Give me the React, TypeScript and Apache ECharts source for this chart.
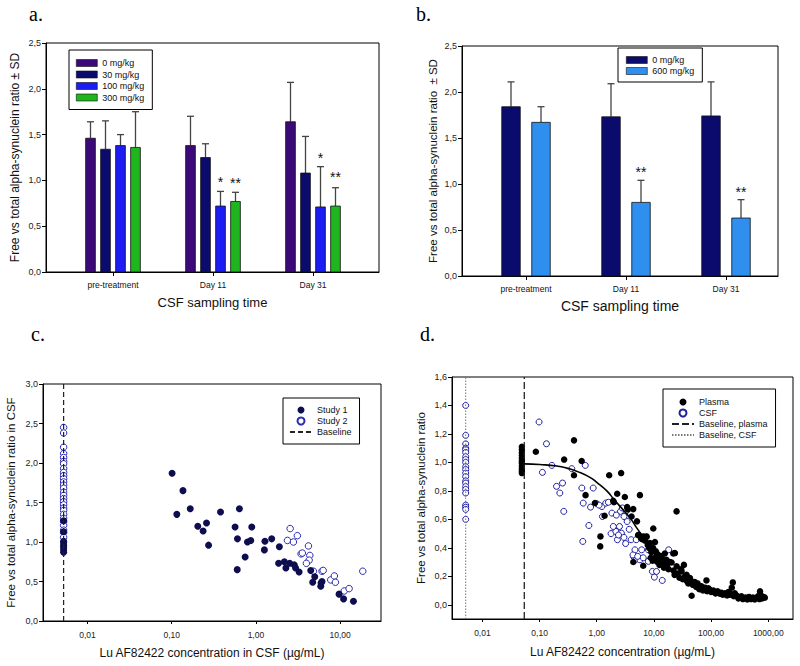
import React, { useEffect, useRef } from 'react';
import * as echarts from 'echarts';

// ---------- Panel a / b : bar charts ----------
const timeCategories = ['pre-treatment', 'Day 11', 'Day 31'];
const dosesA = ['0 mg/kg', '30 mg/kg', '100 mg/kg', '300 mg/kg'];
const meanA0 = [1.46, 1.38, 1.64];
const upA0 = [1.64, 1.70, 2.07];
const meanA30 = [1.34, 1.25, 1.08];
const upA30 = [1.65, 1.40, 1.48];
const meanA100 = [1.38, 0.72, 0.71];
const upA100 = [1.50, 0.88, 1.15];
const meanA300 = [1.36, 0.77, 0.72];
const upA300 = [1.75, 0.87, 0.92];
// [category index, bar index, y value, number of asterisks]
const starsA = [[1, 2, 1.02, 1], [1, 3, 1.0, 2], [2, 2, 1.28, 1], [2, 3, 1.07, 2]];

const dosesB = ['0 mg/kg', '600 mg/kg'];
const meanB0 = [1.84, 1.73, 1.74];
const upB0 = [2.11, 2.09, 2.11];
const meanB600 = [1.67, 0.80, 0.63];
const upB600 = [1.84, 1.04, 0.83];
const starsB = [[1, 1, 1.16, 2], [2, 1, 0.95, 2]];

const yTicksBar = [0, 0.5, 1, 1.5, 2, 2.5];

// ---------- Panel c : CSF scatter ----------
const cBaselineX = 0.0052;
const studyOneBaselineY = [0.87, 0.9, 0.93, 0.96, 0.99, 1.01, 1.13, 1.27];
const studyTwoBaselineY = [2.45, 2.38, 2.2, 2.12, 2.07, 2.02, 1.99, 1.93, 1.88, 1.84, 1.8, 1.76, 1.72, 1.68,
  1.63, 1.59, 1.55, 1.51, 1.47, 1.43, 1.4, 1.35, 1.3, 1.26, 1.21, 1.15, 1.12, 1.06];
const studyOne = [
  [0.101, 1.87], [0.136, 1.65], [0.115, 1.35], [0.166, 1.42], [0.204, 1.2], [0.259, 1.24], [0.236, 1.14],
  [0.274, 0.96], [0.38, 1.38], [0.566, 1.19], [0.637, 1.42], [0.604, 1.04], [0.6, 0.65], [0.745, 0.81],
  [0.794, 1.0], [0.869, 1.02], [0.893, 1.19], [1.28, 1.01], [1.26, 0.9], [1.54, 1.04], [1.9, 0.94],
  [1.86, 0.73], [2.18, 0.75], [2.27, 0.67], [2.52, 0.73], [2.86, 0.71], [2.96, 0.67], [3.26, 0.62],
  [4.48, 0.64], [4.73, 0.49], [5.0, 0.56], [5.94, 0.48], [5.89, 0.44], [6.1, 0.5], [9.73, 0.34],
  [11.0, 0.28], [14.4, 0.25],
];
const studyTwo = [
  [2.55, 1.17], [2.37, 1.02], [2.79, 1.0], [3.11, 1.08], [3.44, 0.85], [3.56, 0.86], [4.21, 0.95],
  [4.37, 0.83], [4.29, 0.77], [3.98, 0.73], [4.82, 0.63], [6.1, 0.63], [6.3, 0.64], [7.74, 0.52],
  [8.55, 0.57], [8.8, 0.49], [11.2, 0.38], [12.8, 0.41], [18.6, 0.63],
];
const xTicksC = [0.01, 0.1, 1, 10];
const yTicksC = [0, 0.5, 1, 1.5, 2, 2.5, 3];

// ---------- Panel d : plasma & CSF ----------
const dPlasmaBaselineX = 0.054;
const dPlasmaColumnX = 0.049;
const dCsfBaselineX = 0.0051;
const plasmaColumnY = [1.11, 1.09, 1.07, 1.05, 1.03, 1.01, 0.995, 0.975, 0.955, 0.94, 0.925];
const csfColumnY = [1.4, 1.19, 1.13, 1.1, 1.09, 1.07, 1.04, 1.02, 1.0, 0.97, 0.95, 0.925, 0.9, 0.87, 0.855,
  0.83, 0.81, 0.785, 0.7, 0.685, 0.67, 0.6];
const plasmaPoints = [
  [0.086, 1.075], [0.269, 1.02], [0.4, 1.155], [0.4, 0.91], [0.545, 1.01], [0.637, 0.77], [0.93, 0.715],
  [1.15, 0.41], [1.16, 0.48], [1.37, 0.625], [1.65, 0.91], [1.94, 0.73], [2.0, 0.72], [2.28, 0.78],
  [2.67, 0.925], [3.1, 0.757], [3.4, 0.686], [3.5, 0.67], [4.06, 0.62], [4.35, 0.672], [4.36, 0.3],
  [5.05, 0.586], [5.4, 0.49], [5.69, 0.77], [5.3, 0.49], [6.5, 0.48], [6.5, 0.274], [7.4, 0.476],
  [7.43, 0.48], [8.5, 0.433], [9.7, 0.398], [9.75, 0.536], [10.4, 0.44], [10.8, 0.375], [11.1, 0.363],
  [13.6, 0.34], [15.5, 0.36], [16.6, 0.316], [20.4, 0.297], [21.8, 0.36], [23.3, 0.363], [24.9, 0.656],
  [25, 0.27], [30.5, 0.234], [33.5, 0.28], [37.3, 0.211], [42.8, 0.187], [45.7, 0.063], [64, 0.129],
  [83, 0.171], [95.5, 0.105], [143, 0.077], [214, 0.07], [230, 0.12], [240, 0.157], [320, 0.054],
  [479, 0.047], [718, 0.054], [718, 0.094], [870, 0.05],
  [5.9, 0.47], [6.2, 0.46], [7.0, 0.45], [7.8, 0.42], [8.2, 0.4], [9.0, 0.37], [8.8, 0.33], [9.5, 0.31],
  [10.5, 0.33], [11.5, 0.3], [12, 0.35], [12.5, 0.28], [13, 0.32], [14, 0.29], [15, 0.26], [15, 0.31],
  [17, 0.28], [18, 0.25], [19, 0.3], [22, 0.24], [23, 0.21], [26, 0.22], [28, 0.19], [30, 0.25],
  [32, 0.18], [35, 0.2], [38, 0.165], [40, 0.15], [44, 0.17], [48, 0.14], [52, 0.16], [55, 0.125],
  [58, 0.15], [62, 0.11], [68, 0.13], [72, 0.1], [78, 0.12], [85, 0.095], [90, 0.115], [100, 0.09],
  [110, 0.1], [120, 0.08], [130, 0.095], [150, 0.085], [160, 0.07], [175, 0.08], [190, 0.065], [200, 0.09],
  [220, 0.075], [250, 0.06], [260, 0.08], [280, 0.065], [300, 0.045], [340, 0.06], [360, 0.04], [400, 0.05],
  [430, 0.038], [460, 0.055], [500, 0.04], [540, 0.05], [580, 0.038], [620, 0.048], [660, 0.06], [700, 0.04],
  [750, 0.065], [780, 0.045], [820, 0.055],
];
const csfPoints = [
  [0.098, 1.284], [0.132, 1.131], [0.112, 0.93], [0.164, 0.979], [0.198, 0.832], [0.226, 0.785],
  [0.252, 0.855], [0.265, 0.656], [0.366, 0.956], [0.549, 0.82], [0.58, 0.714], [0.57, 0.445], [0.63, 0.979],
  [0.728, 0.557], [0.78, 0.686], [0.867, 0.82], [1.23, 0.69], [1.26, 0.62], [1.44, 0.714], [1.84, 0.644],
  [1.78, 0.5], [2.16, 0.515], [2.3, 0.457], [2.6, 0.656], [2.7, 0.503], [2.99, 0.473], [3.2, 0.43],
  [3.4, 0.585], [3.7, 0.53], [4.0, 0.457], [4.66, 0.386], [4.9, 0.457], [4.4, 0.34], [4.98, 0.32],
  [5.7, 0.316], [6.1, 0.386], [8.0, 0.386], [8.5, 0.316], [8.0, 0.305], [9.4, 0.234], [10.2, 0.194],
  [11.1, 0.234], [14.0, 0.171], [18.1, 0.386], [4.3, 0.35], [1.95, 0.55], [2.5, 0.55], [1.0, 0.71],
  [1.1, 0.7], [1.6, 0.72], [2.2, 0.63], [2.8, 0.68], [3.0, 0.62], [3.3, 0.66], [2.4, 0.49], [5.2, 0.34],
  [6.5, 0.33],
];
const fitCurve = [
  [0.054, 0.99], [0.1, 0.985], [0.2, 0.975], [0.3, 0.96], [0.5, 0.93], [0.8, 0.89], [1, 0.86], [1.5, 0.8],
  [2, 0.74], [3, 0.66], [4, 0.6], [5, 0.54], [7, 0.46], [10, 0.38], [15, 0.3], [20, 0.25], [30, 0.19],
  [50, 0.13], [100, 0.08], [200, 0.06], [400, 0.05], [800, 0.045],
];
const xTicksD = [0.01, 0.1, 1, 10, 100, 1000];
const yTicksD = [0, 0.2, 0.4, 0.6, 0.8, 1.0, 1.2, 1.4, 1.6];

const FONT = 'Liberation Sans, Arial, sans-serif';
const SERIF = 'Liberation Serif, Times New Roman, serif';
const lg = (v: number) => Math.log10(v);
const comma1 = (v: number) => v.toFixed(1).replace('.', ',');
const powLabel = (v: number) => Math.pow(10, v).toFixed(2).replace('.', ',');

const colorsA = ['#3c0a78', '#0b0b6e', '#1c1cf5', '#1fb51f'];
const colorsB = ['#0b0b6e', '#2f8fef'];

function barSeries(name: string, means: number[], ups: number[], color: string, offset: number,
  width: number, axisIdx: number) {
  return {
    type: 'custom', name, xAxisIndex: axisIdx, yAxisIndex: axisIdx,
    itemStyle: { color },
    encode: { x: 0, y: [1, 2] },
    data: means.map((m, i) => [i, m, ups[i]]),
    renderItem: (params: any, api: any) => {
      const c = api.value(0);
      const base = api.coord([c, 0]);
      const top = api.coord([c, api.value(1)]);
      const eb = api.coord([c, api.value(2)]);
      const cx = base[0] + offset;
      return {
        type: 'group',
        children: [
          { type: 'line', shape: { x1: cx, y1: top[1], x2: cx, y2: eb[1] }, style: { stroke: '#444', lineWidth: 1.3 } },
          { type: 'line', shape: { x1: cx - 3.5, y1: eb[1], x2: cx + 3.5, y2: eb[1] }, style: { stroke: '#444', lineWidth: 1.3 } },
          {
            type: 'rect', shape: { x: cx - width / 2, y: top[1], width, height: base[1] - top[1] },
            style: { fill: color, stroke: '#111', lineWidth: 0.8 },
          },
        ],
      };
    },
  };
}

function starSeries(stars: number[][], offsets: number[], axisIdx: number) {
  return {
    type: 'custom', name: 'stars' + axisIdx, xAxisIndex: axisIdx, yAxisIndex: axisIdx,
    encode: { x: 0, y: 2 },
    data: stars,
    renderItem: (params: any, api: any) => {
      const p = api.coord([api.value(0), api.value(2)]);
      const n = api.value(3);
      return {
        type: 'text',
        style: {
          text: n === 2 ? '**' : '*', x: p[0] + offsets[api.value(1)], y: p[1] + 3,
          align: 'center', verticalAlign: 'middle', fontSize: 14, fontFamily: FONT, fill: '#111',
        },
      };
    },
  };
}

function barXAxis(grid: number, min: number, max: number, nameSize: number, nameGap: number) {
  return {
    type: 'value', gridIndex: grid, min, max,
    name: 'CSF sampling time', nameLocation: 'middle', nameGap,
    nameTextStyle: { fontFamily: FONT, fontSize: nameSize, color: '#111' },
    axisLine: { show: true, onZero: false, lineStyle: { color: '#000', width: 1 } },
    axisTick: { show: true, customValues: [0, 1, 2], length: 4, lineStyle: { color: '#000' } },
    axisLabel: {
      customValues: [0, 1, 2], formatter: (v: number) => timeCategories[Math.round(v)],
      fontFamily: FONT, fontSize: 8.5, color: '#111', margin: 8,
    },
    splitLine: { show: false },
  };
}

function yAxisCfg(grid: number, min: number, max: number, ticks: number[], name: string, nameSize: number, nameGap: number) {
  return {
    type: 'value', gridIndex: grid, min, max,
    name, nameLocation: 'middle', nameGap,
    nameTextStyle: { fontFamily: FONT, fontSize: nameSize, color: '#111' },
    axisLine: { show: true, onZero: false, lineStyle: { color: '#000', width: 1 } },
    axisTick: { show: true, customValues: ticks, length: 4, lineStyle: { color: '#000' } },
    axisLabel: { customValues: ticks, formatter: comma1, fontFamily: FONT, fontSize: 9, color: '#222', margin: 5 },
    splitLine: { show: false },
  };
}

function logXAxis(grid: number, min: number, max: number, ticks: number[], name: string, nameGap: number) {
  const t = ticks.map(lg);
  return {
    type: 'value', gridIndex: grid, min, max,
    name, nameLocation: 'middle', nameGap,
    nameTextStyle: { fontFamily: FONT, fontSize: 12, color: '#111' },
    axisLine: { show: true, onZero: false, lineStyle: { color: '#000', width: 1 } },
    axisTick: { show: true, customValues: t, length: 3, lineStyle: { color: '#000' } },
    axisLabel: { customValues: t, formatter: powLabel, fontFamily: FONT, fontSize: 8.5, color: '#222', margin: 9 },
    splitLine: { show: false },
  };
}

const gridStyle = { show: true, borderColor: '#000', borderWidth: 1, backgroundColor: 'transparent' };
const hiddenSymbol = { color: 'rgba(0,0,0,0)', borderColor: 'rgba(0,0,0,0)', borderWidth: 0 };

export default function App() {
  const ref = useRef<HTMLDivElement>(null);
  useEffect(() => {
    if (!ref.current) return;
    const chart = echarts.init(ref.current, null, { renderer: 'svg' });
    const legendText = { fontFamily: FONT, fontSize: 9, color: '#111', lineHeight: 10 };
    const titleStyle = { fontFamily: SERIF, fontSize: 20, fontWeight: 'normal', color: '#000' };
    const option: any = {
      animation: false,
      backgroundColor: '#fff',
      title: [
        { text: 'a.', left: 24, top: -1, textStyle: titleStyle },
        { text: 'b.', left: 411, top: -1, textStyle: titleStyle },
        { text: 'c.', left: 26, top: 319, textStyle: titleStyle },
        { text: 'd.', left: 415, top: 319, textStyle: titleStyle },
      ],
      grid: [
        { left: 46, top: 43, width: 333, height: 229, ...gridStyle },
        { left: 462, top: 46, width: 316, height: 230, ...gridStyle },
        { left: 43, top: 384, width: 338, height: 237, ...gridStyle },
        { left: 452, top: 377, width: 341, height: 242, ...gridStyle },
      ],
      xAxis: [
        barXAxis(0, -0.67, 2.66, 13, 24),
        barXAxis(1, -0.64, 2.52, 14, 23),
        logXAxis(2, -2.529, 1.486, xTicksC, 'Lu AF82422 concentration in CSF (µg/mL)', 26),
        logXAxis(3, -2.532, 3.433, xTicksD, 'Lu AF82422 concentration (µg/mL)', 27),
      ],
      yAxis: [
        yAxisCfg(0, 0, 2.5, yTicksBar, 'Free vs total alpha-synuclein ratio ± SD', 12, 25),
        yAxisCfg(1, 0, 2.5, yTicksBar, 'Free vs total alpha-synuclein ratio  ± SD', 11.5, 23),
        yAxisCfg(2, 0, 3, yTicksC, 'Free vs total alpha-synuclein ratio in CSF', 11.5, 26),
        yAxisCfg(3, -0.1, 1.6, yTicksD, 'Free vs total alpha-synuclein ratio', 11.5, 25),
      ],
      legend: [
        {
          left: 69, top: 50, orient: 'vertical', icon: 'rect', itemWidth: 21, itemHeight: 7, itemGap: 1.5,
          padding: [8, 8, 7, 7], borderColor: '#000', borderWidth: 1, selectedMode: false,
          textStyle: legendText,
          data: dosesA.map((n, i) => ({ name: n, itemStyle: { color: colorsA[i], borderColor: '#111', borderWidth: 0.6 } })),
        },
        {
          left: 618, top: 48, orient: 'vertical', icon: 'rect', itemWidth: 21, itemHeight: 7, itemGap: 1,
          padding: [7, 8, 6, 8], borderColor: '#000', borderWidth: 1, selectedMode: false,
          textStyle: legendText,
          data: dosesB.map((n, i) => ({ name: n, itemStyle: { color: colorsB[i], borderColor: '#111', borderWidth: 0.6 } })),
        },
        {
          left: 283, top: 398, orient: 'vertical', itemWidth: 22, itemHeight: 7, itemGap: 1,
          padding: [7, 8, 7, 6], borderColor: '#000', borderWidth: 1, selectedMode: false,
          textStyle: legendText,
          data: ['Study 1', 'Study 2', { name: 'Baseline', itemStyle: hiddenSymbol }],
        },
        {
          left: 663, top: 389, orient: 'vertical', itemWidth: 22, itemHeight: 7, itemGap: 1,
          padding: [8, 8, 7, 8], borderColor: '#000', borderWidth: 1, selectedMode: false,
          textStyle: legendText,
          data: ['Plasma', 'CSF', { name: 'Baseline, plasma', itemStyle: hiddenSymbol },
            { name: 'Baseline, CSF', itemStyle: hiddenSymbol }],
        },
      ],
      series: [
        barSeries(dosesA[0], meanA0, upA0, colorsA[0], -22.5, 9.7, 0),
        barSeries(dosesA[1], meanA30, upA30, colorsA[1], -7.5, 9.7, 0),
        barSeries(dosesA[2], meanA100, upA100, colorsA[2], 7.5, 9.7, 0),
        barSeries(dosesA[3], meanA300, upA300, colorsA[3], 22.5, 9.7, 0),
        starSeries(starsA, [-22.5, -7.5, 7.5, 22.5], 0),
        barSeries(dosesB[0], meanB0, upB0, colorsB[0], -15, 18.5, 1),
        barSeries(dosesB[1], meanB600, upB600, colorsB[1], 15, 18.5, 1),
        starSeries(starsB, [-15, 15], 1),
        // panel c
        {
          type: 'line', name: 'Baseline', xAxisIndex: 2, yAxisIndex: 2, symbol: 'none',
          data: [[lg(cBaselineX), 0], [lg(cBaselineX), 3]],
          lineStyle: { color: '#222', width: 1.2, type: [5, 3] }, itemStyle: { color: '#222' },
        },
        {
          type: 'scatter', name: 'Study 2', xAxisIndex: 2, yAxisIndex: 2, symbol: 'circle', symbolSize: 6.5,
          data: [...studyTwoBaselineY.map((y) => [lg(cBaselineX), y]), ...studyTwo.map(([x, y]) => [lg(x), y])],
          itemStyle: { color: '#ffffff', borderColor: '#2b2bb0', borderWidth: 1, opacity: 1 },
        },
        {
          type: 'scatter', name: 'Study 1', xAxisIndex: 2, yAxisIndex: 2, symbol: 'circle', symbolSize: 7,
          data: [...studyOneBaselineY.map((y) => [lg(cBaselineX), y]), ...studyOne.map(([x, y]) => [lg(x), y])],
          itemStyle: { color: '#0d0d50', opacity: 1 },
        },
        // panel d
        {
          type: 'line', name: 'Baseline, CSF', xAxisIndex: 3, yAxisIndex: 3, symbol: 'none',
          data: [[lg(dCsfBaselineX), -0.1], [lg(dCsfBaselineX), 1.6]],
          lineStyle: { color: '#777', width: 1, type: [1.5, 1.5] }, itemStyle: { color: '#777' },
        },
        {
          type: 'line', name: 'Baseline, plasma', xAxisIndex: 3, yAxisIndex: 3, symbol: 'none',
          data: [[lg(dPlasmaBaselineX), -0.1], [lg(dPlasmaBaselineX), 1.6]],
          lineStyle: { color: '#222', width: 1.3, type: [7, 3] }, itemStyle: { color: '#222' },
        },
        {
          type: 'scatter', name: 'CSF', xAxisIndex: 3, yAxisIndex: 3, symbol: 'circle', symbolSize: 6,
          data: [...csfColumnY.map((y) => [lg(dCsfBaselineX), y]), ...csfPoints.map(([x, y]) => [lg(x), y])],
          itemStyle: { color: '#ffffff', borderColor: '#1f1fa0', borderWidth: 1, opacity: 1 },
        },
        {
          type: 'line', name: 'fit', xAxisIndex: 3, yAxisIndex: 3, symbol: 'none', smooth: true,
          data: fitCurve.map(([x, y]) => [lg(x), y]),
          lineStyle: { color: '#000', width: 1.6 }, itemStyle: { color: '#000' },
        },
        {
          type: 'scatter', name: 'Plasma', xAxisIndex: 3, yAxisIndex: 3, symbol: 'circle', symbolSize: 6.5,
          data: [...plasmaColumnY.map((y) => [lg(dPlasmaColumnX), y]), ...plasmaPoints.map(([x, y]) => [lg(x), y])],
          itemStyle: { color: '#000', opacity: 1 },
        },
      ],
    };
    chart.setOption(option);
    return () => chart.dispose();
  }, []);
  return <div ref={ref} style={{ position: 'absolute', left: 0, top: 0, width: 800, height: 666, background: '#fff' }} />;
}
